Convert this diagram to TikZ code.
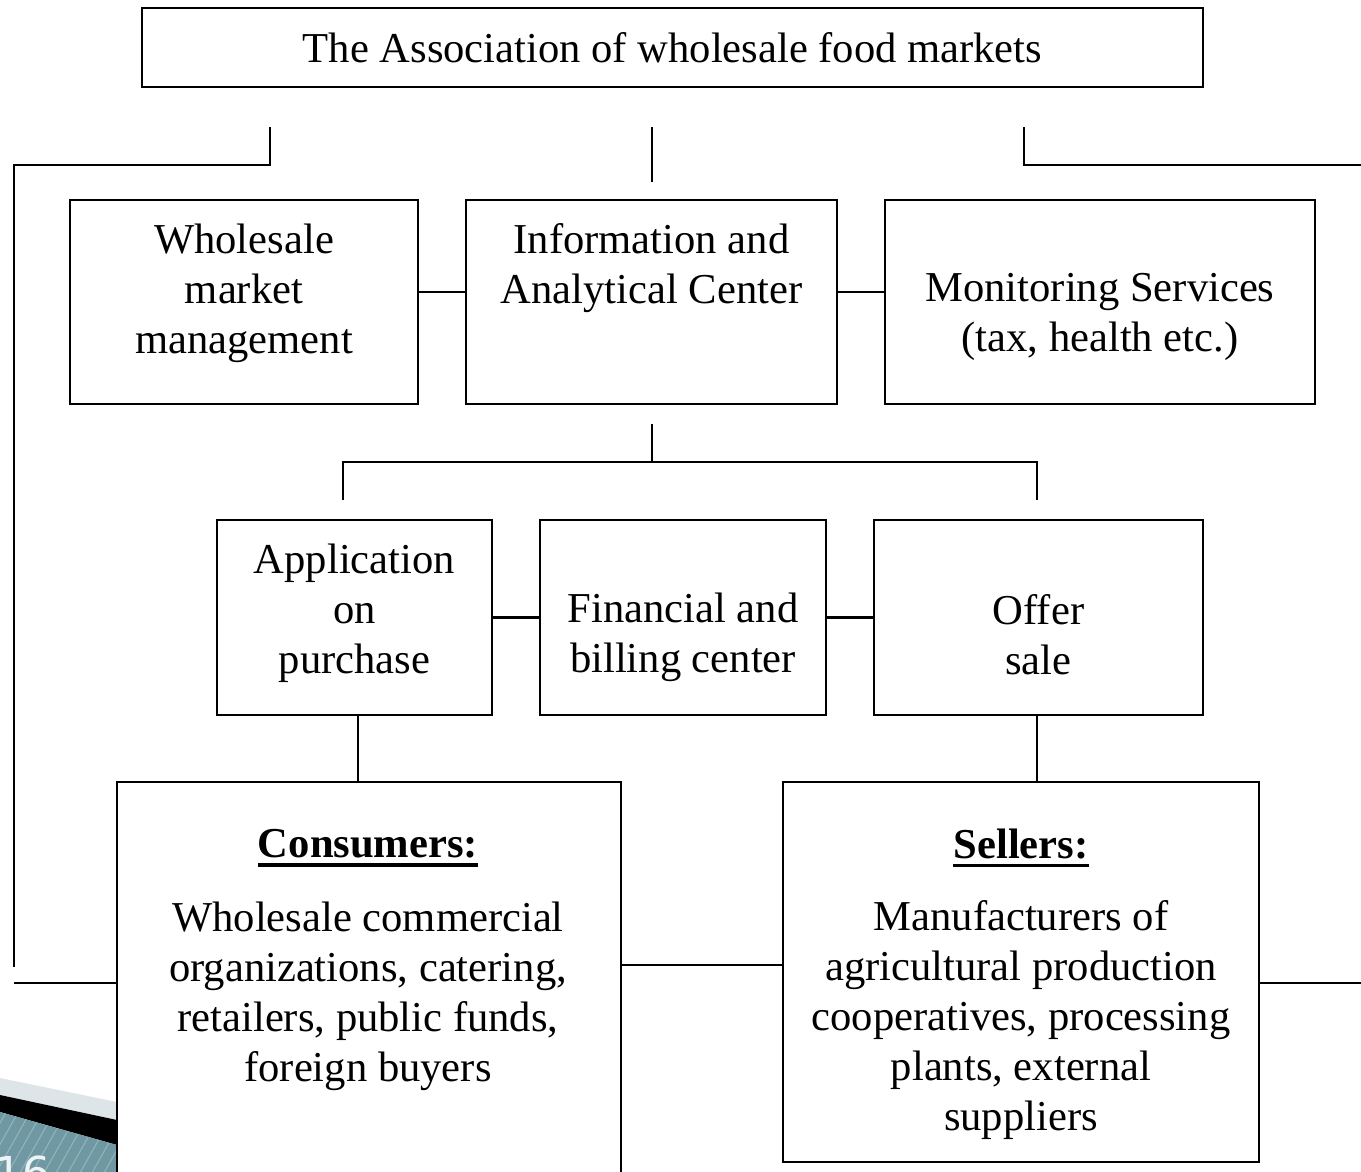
\documentclass[tikz,border=0pt]{standalone}
\usepackage{fontspec}
\setmainfont{Liberation Serif}
\newfontfamily\decofont{DejaVu Sans}
\definecolor{decogrey}{HTML}{DDE5E8}
\definecolor{decoteal}{HTML}{6F98A3}
\definecolor{decostripe}{HTML}{8FB2BB}
\definecolor{decotext}{HTML}{EEF3F5}
\begin{document}
\begin{tikzpicture}[x=1pt,y=-1pt,
  box/.style={draw, line width=2.5pt, fill=white, inner sep=0pt},
  lbl/.style={align=center, inner sep=0pt, font=\fontsize{42.6}{50}\selectfont},
  conn/.style={line width=2.5pt}]
\useasboundingbox (0,0) rectangle (1361,1172);
\clip (0,0) rectangle (1361,1172);
% slide decoration (bottom left)
\fill[decogrey] (0,1078) -- (117,1102) -- (117,1120) -- (0,1095) -- cycle;
\fill[black] (0,1095) -- (117,1120) -- (117,1145) -- (0,1112) -- cycle;
\fill[decoteal] (0,1112) -- (117,1145) -- (117,1172) -- (0,1172) -- cycle;
\begin{scope}
  \clip (0,1112) -- (117,1145) -- (117,1172) -- (0,1172) -- cycle;
  \foreach \i in {-80,-68,...,140} \draw[decostripe, line width=1.2pt] (\i,1180) -- (\i+45,1100);
\end{scope}
\node[anchor=base west, inner sep=0pt, text=decotext, font=\decofont\fontsize{44}{44}\selectfont] (pgnum) at (-6,1188) {16};
% boxes
\node[box, minimum width=1061pt, minimum height=79pt] (top) at (672.5,47.5) {};
\node[box, minimum width=348pt, minimum height=204pt] (wmm) at (244,302) {};
\node[box, minimum width=371pt, minimum height=204pt] (iac) at (651.5,302) {};
\node[box, minimum width=430pt, minimum height=204pt] (ms) at (1100,302) {};
\node[box, minimum width=275pt, minimum height=195pt] (app) at (354.5,617.5) {};
\node[box, minimum width=286pt, minimum height=195pt] (fin) at (683,617.5) {};
\node[box, minimum width=329pt, minimum height=195pt] (off) at (1038.5,617.5) {};
\node[box, minimum width=504pt, minimum height=418pt] (cons) at (369,991) {};
\node[box, minimum width=476pt, minimum height=380pt] (sel) at (1021,972) {};
% texts
\node[lbl] (toptxt) at (672.5,48) {The Association of wholesale food markets};
\node[lbl] (wmmtxt) at (244,293) {Wholesale\\market\\management};
\node[lbl] (iactxt) at (651.5,268) {Information and\\Analytical Center};
\node[lbl] (mstxt) at (1100,317) {Monitoring Services\\(tax, health etc.)};
\node[lbl] (apptxt) at (354.5,613) {Application\\on\\purchase};
\node[lbl] (fintxt) at (683,637) {Financial and\\billing center};
\node[lbl] (offtxt) at (1038.5,635) {Offer\\sale};
\node[lbl, font=\bfseries\fontsize{42.6}{50}\selectfont] (conshead) at (368,844) {Consumers:};
\node[lbl] (constxt) at (368,996) {Wholesale commercial\\organizations, catering,\\retailers, public funds,\\foreign buyers};
\node[lbl, font=\bfseries\fontsize{42.6}{50}\selectfont] (selhead) at (1021,844) {Sellers:};
\node[lbl] (seltxt) at (1021,1020) {Manufacturers of\\agricultural production\\cooperatives, processing\\plants, external\\suppliers};
\draw[line width=3.5pt] ([yshift=-7pt]conshead.base west) -- ([yshift=-7pt]conshead.base east);
\draw[line width=3.5pt] ([yshift=-7pt]selhead.base west) -- ([yshift=-7pt]selhead.base east);
% connector end points
\coordinate (tl1) at (270,127);
\coordinate (tl2) at (14,967);
\coordinate (tm1) at (652,127);
\coordinate (tm2) at (652,182);
\coordinate (tr1) at (1024,127);
\coordinate (tr2) at (1361,165);
\coordinate (ic1) at (652,424);
\coordinate (ic2) at (652,462);
\coordinate (bl) at (343,500);
\coordinate (br) at (1037,500);
\coordinate (ll) at (14,983);
\coordinate (rr) at (1361,983);
% connectors
\draw[conn] (tl1) -- ++(0,38) -| (tl2);
\draw[conn] (tm1) -- (tm2);
\draw[conn] (tr1) |- (tr2);
\draw[conn] ([yshift=10pt]wmm.east) -- ([yshift=10pt]iac.west);
\draw[conn] ([yshift=10pt]iac.east) -- ([yshift=10pt]ms.west);
\draw[conn] (ic1) -- (ic2);
\draw[conn] (bl) |- (ic2) -| (br);
\draw[conn] (app.east) -- (fin.west);
\draw[conn] (fin.east) -- (off.west);
\draw[conn] ([xshift=3.5pt]app.south) -- ([xshift=3.5pt]app.south |- cons.north);
\draw[conn] ([xshift=-1.5pt]off.south) -- ([xshift=-1.5pt]off.south |- sel.north);
\draw[conn] ([yshift=26pt]cons.east) -- ([yshift=26pt]cons.east -| sel.west);
\draw[conn] (ll) -- (ll -| cons.west);
\draw[conn] (rr -| sel.east) -- (rr);
\end{tikzpicture}
\end{document}
